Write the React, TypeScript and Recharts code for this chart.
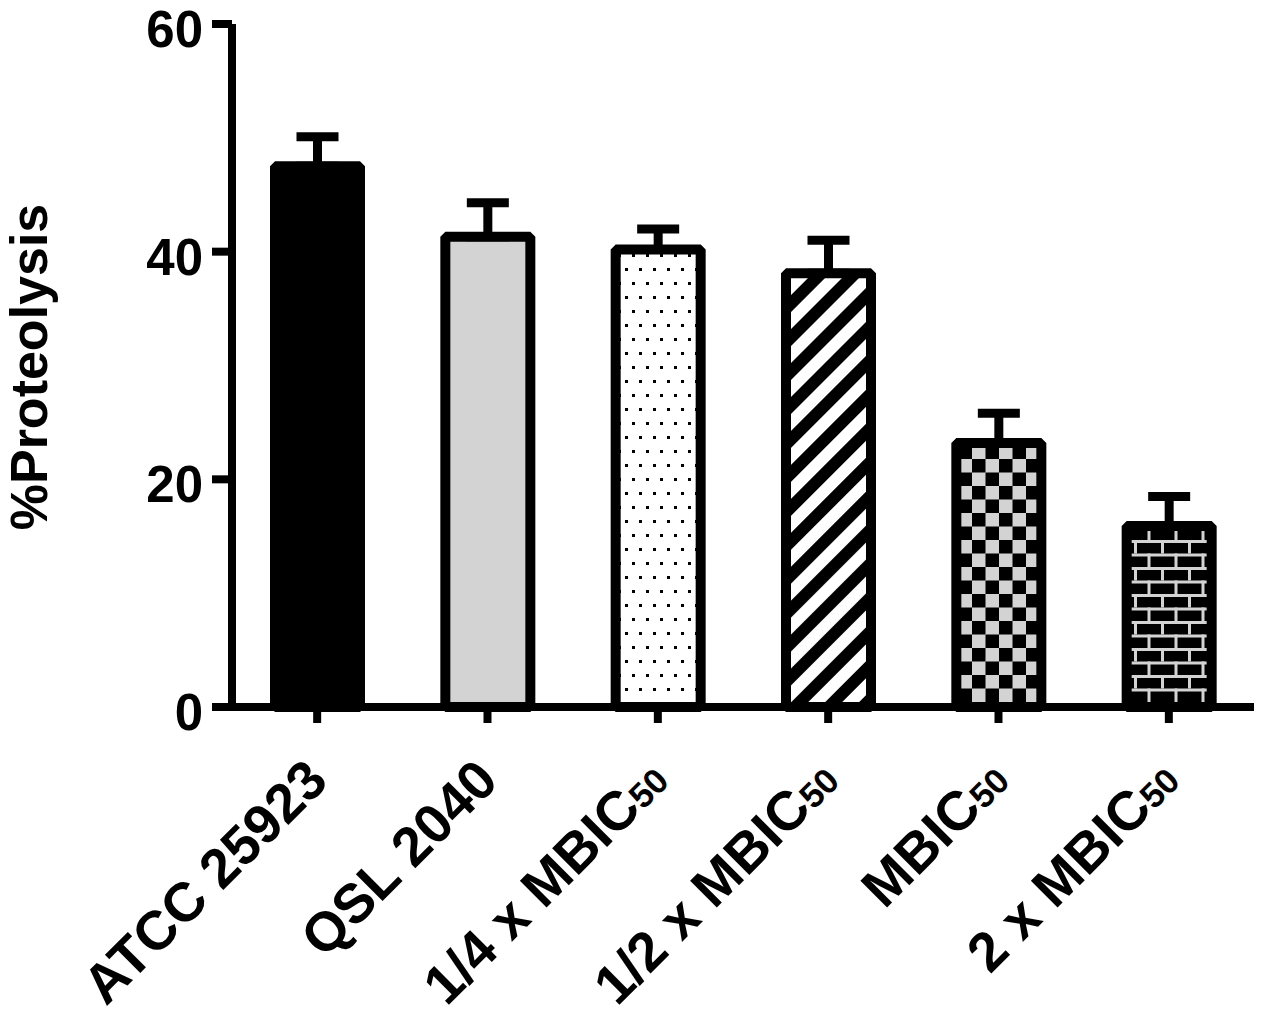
import React from 'react'
import { BarChart, Bar, XAxis, YAxis, ErrorBar, Cell } from 'recharts'

const categories = ['ATCC 25923', 'QSL 2040', '1/4 x MBIC50', '1/2 x MBIC50', 'MBIC50', '2 x MBIC50']
const means = [47.5, 41.3, 40.2, 38.1, 23.2, 15.9]
const upperErrors = [2.6, 3.0, 1.8, 2.9, 2.6, 2.6]
const yTicks = [0, 20, 40, 60]

const FILLS = ['#000000', '#d3d3d3', 'url(#dots)', 'url(#stripes)', 'url(#checks)', 'url(#bricks)']
const FONT = '"Liberation Sans", Arial, Helvetica, sans-serif'

const data = categories.map((name, i) => ({
  name,
  value: means[i],
  err: [0, upperErrors[i]],
}))

// rotated category label, "50" drawn smaller like the original
const CategoryTick = (props: any) => {
  const { x, payload } = props
  const label: string = payload.value
  const ax = x + 13
  const ay = 783
  const hasSub = label.endsWith('MBIC50')
  const main = hasSub ? label.slice(0, -2) : label
  return (
    <text
      x={ax}
      y={ay}
      transform={`rotate(-45, ${ax}, ${ay})`}
      textAnchor="end"
      fontFamily={FONT}
      fontWeight="bold"
      fontSize={55}
      fill="#000"
    >
      <tspan>{main}</tspan>
      {hasSub && <tspan fontSize={35}>50</tspan>}
    </text>
  )
}

const ValueTick = (props: any) => {
  const { x, y, payload } = props
  return (
    <text x={x - 3} y={y + 23} textAnchor="end" fontFamily={FONT} fontWeight="bold" fontSize={51} fill="#000">
      {payload.value}
    </text>
  )
}

const BarShape = (props: any) => {
  const { x, y, width, height, fill } = props
  return (
    <rect
      x={x}
      y={y}
      width={width}
      height={height}
      fill={fill}
      stroke="#000"
      strokeWidth={10}
      strokeLinejoin="bevel"
    />
  )
}

const App: React.FC = () => {
  return (
    <div style={{ position: 'absolute', left: 0, top: 0, background: '#fff' }}>
      <BarChart width={1267} height={1018} data={data} margin={{ top: 24, right: 13, left: 0, bottom: 0 }}>
        <defs>
          <pattern id="dots" patternUnits="userSpaceOnUse" width={14} height={28}>
            <rect width={14} height={28} fill="#fff" />
            <rect x={2} y={2} width={3} height={3} fill="#000" />
            <rect x={9} y={16} width={3} height={3} fill="#000" />
          </pattern>
          <pattern id="stripes" patternUnits="userSpaceOnUse" width={24} height={24} patternTransform="rotate(45)">
            <rect width={24} height={24} fill="#fff" />
            <rect width={12} height={24} fill="#000" />
          </pattern>
          <pattern id="checks" patternUnits="userSpaceOnUse" width={27} height={27}>
            <rect width={27} height={27} fill="#d3d3d3" />
            <rect width={13.5} height={13.5} fill="#000" />
            <rect x={13.5} y={13.5} width={13.5} height={13.5} fill="#000" />
          </pattern>
          <pattern id="bricks" patternUnits="userSpaceOnUse" width={27} height={27}>
            <rect width={27} height={27} fill="#000" />
            <rect y={0} width={27} height={3} fill="#d3d3d3" />
            <rect y={13.5} width={27} height={3} fill="#d3d3d3" />
            <rect x={0} y={0} width={3} height={13.5} fill="#d3d3d3" />
            <rect x={13.5} y={13.5} width={3} height={13.5} fill="#d3d3d3" />
          </pattern>
        </defs>
        <XAxis
          dataKey="name"
          height={311}
          interval={0}
          axisLine={{ stroke: '#000', strokeWidth: 8 }}
          tickLine={{ stroke: '#000', strokeWidth: 8 }}
          tickSize={16}
          tick={<CategoryTick />}
        />
        <YAxis
          width={232}
          domain={[0, 60]}
          ticks={yTicks}
          interval={0}
          axisLine={{ stroke: '#000', strokeWidth: 8 }}
          tickLine={{ stroke: '#000', strokeWidth: 8 }}
          tickSize={20}
          tickMargin={6}
          tick={<ValueTick />}
          label={() => (
            <text
              x={47}
              y={367}
              transform="rotate(-90, 47, 367)"
              textAnchor="middle"
              fontFamily={FONT}
              fontWeight="bold"
              fontSize={52}
              fill="#000"
            >
              %Proteolysis
            </text>
          )}
        />
        <Bar dataKey="value" barSize={85} shape={<BarShape />} isAnimationActive={false}>
          {data.map((d, i) => (
            <Cell key={d.name} fill={FILLS[i]} />
          ))}
          <ErrorBar dataKey="err" width={21} strokeWidth={9} stroke="#000" direction="y" isAnimationActive={false} />
        </Bar>
      </BarChart>
    </div>
  )
}

export default App
